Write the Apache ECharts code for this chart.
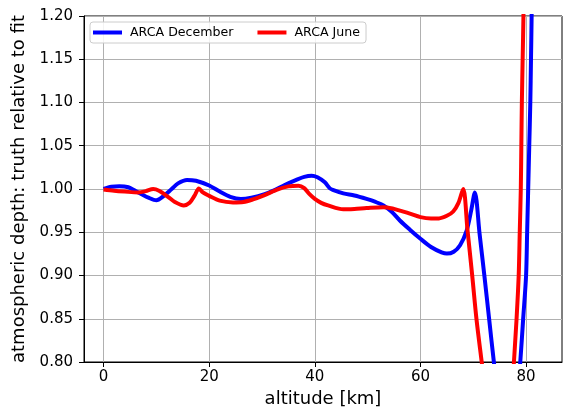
<!DOCTYPE html>
<html>
<head>
<meta charset="utf-8">
<script src="https://cdn.jsdelivr.net/npm/echarts@6/dist/echarts.min.js"></script>
<style>
html,body{margin:0;padding:0;background:#fff;}
#chart{width:563px;height:413px;}
</style>
</head>
<body>
<div id="chart"></div>
<script>
// ---- data ----
var seriesNames = ['ARCA December', 'ARCA June'];
var xTickValues = [0, 20, 40, 60, 80];
var yTickValues = [0.80, 0.85, 0.90, 0.95, 1.00, 1.05, 1.10, 1.15, 1.20];

var decAlt = [0, 1.5, 3, 4.7, 6, 7.2, 8.5, 10, 11.3, 12.9, 14.1, 15.8, 17.5, 20, 22, 24, 26, 28, 30.5, 32.5, 34.3, 36.5, 38, 39.4, 40.5, 41.9, 42.8, 43.4, 45.4, 47.5, 49.8, 51.5, 53, 54.5, 56.1, 58, 60, 62, 64, 65, 66.3, 67.5, 68.75, 69.6, 70.3, 71.2, 72.1, 73.0, 73.9, 75, 76, 77, 78, 78.9, 79.45, 80.0, 80.2, 80.4, 80.6, 80.8, 80.93, 81.05, 81.3];
var decVal = [1.000, 1.0025, 1.0032, 1.002, 0.998, 0.994, 0.990, 0.987, 0.9915, 1.000, 1.0065, 1.0105, 1.0095, 1.004, 0.997, 0.991, 0.9885, 0.990, 0.994, 0.999, 1.0046, 1.0105, 1.014, 1.0153, 1.0135, 1.0077, 1.001, 0.999, 0.995, 0.9925, 0.9885, 0.985, 0.981, 0.974, 0.9636, 0.953, 0.9425, 0.933, 0.9268, 0.9253, 0.9275, 0.935, 0.952, 0.975, 0.996, 0.948, 0.900, 0.850, 0.800, 0.745, 0.710, 0.700, 0.730, 0.800, 0.850, 0.900, 0.950, 1.000, 1.050, 1.100, 1.150, 1.200, 1.350];

var junAlt = [0, 2, 4, 6.6, 8, 9.4, 10.5, 12.2, 13.5, 15.2, 16.3, 17.2, 18.05, 18.8, 20, 22, 24.5, 26.5, 28.3, 30.5, 33, 35, 36.9, 38, 39, 40, 41.2, 42.5, 45.4, 47.5, 49.8, 53, 55, 56.1, 58, 60, 62, 63.5, 65, 66.2, 67.2, 68.1, 68.9, 69.8, 70.6, 71.6, 73, 74.5, 76, 77, 77.7, 78.2, 78.6, 78.8, 79.0, 79.1, 79.2, 79.35, 79.5, 79.7];
var junVal = [0.9995, 0.998, 0.997, 0.996, 0.9975, 1.000, 0.998, 0.991, 0.985, 0.981, 0.984, 0.992, 1.0005, 0.996, 0.992, 0.9865, 0.9845, 0.985, 0.988, 0.993, 0.9995, 1.003, 1.0038, 1.001, 0.994, 0.9885, 0.984, 0.981, 0.9765, 0.977, 0.978, 0.979, 0.977, 0.975, 0.9715, 0.9675, 0.966, 0.966, 0.969, 0.974, 0.984, 1.000, 0.953, 0.900, 0.850, 0.800, 0.730, 0.690, 0.680, 0.720, 0.800, 0.850, 0.900, 0.950, 1.000, 1.050, 1.100, 1.150, 1.200, 1.300];

function pairs(xs, ys) {
  var out = [];
  for (var i = 0; i < xs.length; i++) out.push([xs[i], ys[i]]);
  return out;
}

var FONT = 'DejaVu Sans';
var chart = echarts.init(document.getElementById('chart'), null, {renderer: 'canvas'});
chart.setOption({
  animation: false,
  backgroundColor: '#ffffff',
  textStyle: {fontFamily: FONT},
  grid: {
    left: 84, top: 16, right: 1, bottom: 49,
    show: true, borderColor: '#000', borderWidth: 1, backgroundColor: 'transparent'
  },
  legend: {
    left: 90, top: 22,
    orient: 'horizontal',
    padding: [4, 6, 4, 3],
    itemWidth: 29, itemHeight: 4, itemGap: 24,
    icon: 'rect',
    backgroundColor: 'rgba(255,255,255,0.85)',
    borderColor: '#cccccc', borderWidth: 1, borderRadius: 3,
    textStyle: {fontFamily: FONT, fontSize: 12.6, color: '#000', padding: [0, 0, 0, 3]},
    data: seriesNames
  },
  xAxis: {
    type: 'value',
    min: -3.7, max: 86.8,
    name: 'altitude [km]',
    nameLocation: 'middle', nameGap: 28,
    nameTextStyle: {fontFamily: FONT, fontSize: 18, color: '#000'},
    axisLine: {show: true, onZero: false, lineStyle: {color: '#000', width: 1}},
    axisTick: {show: true, length: 5, lineStyle: {color: '#000', width: 1}, customValues: xTickValues},
    axisLabel: {fontFamily: FONT, fontSize: 15, color: '#000', margin: 8, customValues: xTickValues},
    splitLine: {show: true, lineStyle: {color: '#b0b0b0', width: 1}}
  },
  yAxis: {
    type: 'value',
    min: 0.80, max: 1.20, interval: 0.05,
    name: 'atmospheric depth: truth relative to fit',
    nameLocation: 'middle', nameGap: 45,
    nameTextStyle: {fontFamily: FONT, fontSize: 18, color: '#000'},
    axisLine: {show: true, onZero: false, lineStyle: {color: '#000', width: 1}},
    axisTick: {show: true, length: 5, lineStyle: {color: '#000', width: 1}},
    axisLabel: {fontFamily: FONT, fontSize: 15, color: '#000', margin: 11,
      formatter: function (v) { return v.toFixed(2); }},
    splitLine: {show: true, lineStyle: {color: '#b0b0b0', width: 1}}
  },
  series: [
    {
      name: seriesNames[0], type: 'line', data: pairs(decAlt, decVal),
      smooth: 0.3, showSymbol: false, symbol: 'none', clip: true,
      lineStyle: {color: '#0000ff', width: 4}, itemStyle: {color: '#0000ff'}, z: 2
    },
    {
      name: seriesNames[1], type: 'line', data: pairs(junAlt, junVal),
      smooth: 0.3, showSymbol: false, symbol: 'none', clip: true,
      lineStyle: {color: '#ff0000', width: 4}, itemStyle: {color: '#ff0000'}, z: 3
    }
  ]
});
</script>
</body>
</html>
